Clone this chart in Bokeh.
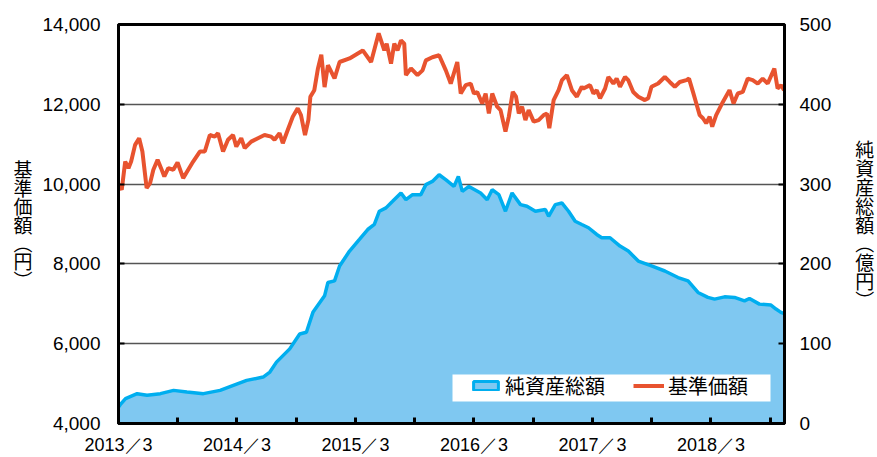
from bokeh.plotting import figure
from bokeh.models import (Range1d, LinearAxis, FixedTicker, NumeralTickFormatter,
                          Legend, LegendItem, BoxAnnotation)
from bokeh.embed import file_html
from bokeh.resources import INLINE

# months since 2013/3
nav_month = [0.00, 0.33, 0.68, 1.01, 1.28, 1.68, 2.09, 2.42, 2.85, 3.20, 3.53, 3.96, 4.31, 4.64, 5.04,
             5.55, 5.98, 6.55, 7.06, 7.56, 8.24, 8.74, 9.25, 9.75, 10.08, 10.59, 11.09, 11.60, 11.93,
             12.43, 12.78, 13.44, 14.12, 14.79, 15.46, 15.80, 16.31, 16.64, 17.14, 17.65, 18.15, 18.48,
             18.89, 19.23, 19.43, 19.83, 20.20, 20.54, 20.87, 21.21, 21.88, 22.39, 23.40, 24.74, 25.58,
             26.35, 26.92, 27.16, 27.60, 27.93, 28.26, 28.61, 28.94, 29.11, 29.62, 30.28, 30.79, 31.13,
             31.79, 32.47, 33.15, 33.65, 34.31, 34.66, 35.16, 35.67, 36.00, 36.33, 36.84, 37.18, 37.51,
             37.85, 38.35, 38.69, 39.19, 39.53, 39.93, 40.26, 40.54, 40.87, 41.21, 41.54, 42.05, 42.55,
             43.06, 43.39, 43.63, 44.07, 44.57, 44.91, 45.41, 45.92, 46.42, 46.92, 47.09, 47.76, 48.10,
             48.43, 48.77, 49.28, 49.61, 50.12, 50.45, 50.79, 51.30, 51.63, 52.13, 52.64, 53.31, 53.65,
             53.98, 54.65, 55.33, 55.83, 56.34, 56.84, 57.51, 57.78, 58.18, 58.52, 58.86, 59.19, 59.52,
             59.87, 60.13, 60.53, 61.21, 61.88, 62.29, 62.72, 63.22, 63.73, 64.23, 64.74, 65.24, 65.75,
             66.42, 66.75, 67.11, 67.41]
nav_value = [9985, 9860, 10566, 10400, 10566, 10983, 11150, 10816, 9900, 10025, 10360, 10610, 10400,
             10190, 10400, 10360, 10540, 10150, 10360, 10566, 10816, 10816, 11230, 11190, 11275, 10816,
             11110, 11230, 10940, 11150, 10900, 11065, 11150, 11230, 11190, 11110, 11275, 11025, 11357,
             11690, 11900, 11730, 11230, 11606, 12187, 12354, 12900, 13240, 12430, 12980, 12650, 13060,
             13150, 13350, 13060, 13780, 13350, 13520, 13020, 13520, 13350, 13600, 13520, 12730, 12900,
             12730, 12850, 13100, 13180, 13230, 12850, 12520, 13060, 12270, 12480, 12520, 12270, 12310,
             12020, 12270, 11770, 12270, 11940, 11855, 11315, 11690, 12310, 12190, 11770, 11940, 11605,
             11855, 11565, 11605, 11730, 11770, 11400, 12105, 12354, 12605, 12730, 12354, 12190, 12440,
             12395, 12480, 12270, 12355, 12150, 12395, 12685, 12520, 12645, 12440, 12685, 12605, 12310,
             12190, 12105, 12150, 12440, 12520, 12685, 12560, 12440, 12560, 12605, 12645, 12310, 12020,
             11730, 11650, 11525, 11690, 11440, 11730, 12060, 12355, 12020, 12270, 12310, 12645, 12605,
             12520, 12645, 12520, 12895, 12395, 12480, 12355]

aum_month = [0.03, 0.2, 0.71, 1.89, 2.89, 4.24, 5.58, 6.93, 8.6, 10.29, 11.63, 12.98, 14.65, 15.33,
             16.0, 17.34, 18.35, 19.03, 19.69, 20.87, 21.21, 21.88, 22.39, 23.4, 24.4, 25.24, 25.91,
             26.42, 27.09, 27.76, 28.61, 29.11, 29.78, 30.62, 31.13, 31.79, 32.47, 33.14, 33.98, 34.42,
             34.82, 35.49, 36.67, 37.34, 37.84, 38.52, 39.19, 39.86, 40.71, 41.37, 42.22, 43.23, 43.56,
             44.24, 44.9, 45.58, 46.25, 46.92, 47.6, 48.43, 48.94, 49.78, 50.79, 51.63, 52.64, 53.98,
             55.33, 56.67, 57.68, 58.69, 59.69, 60.37, 61.38, 62.39, 63.4, 63.9, 64.91, 66.08, 66.59,
             67.09, 67.36]
aum_value = [20.8, 24, 31.2, 37.4, 35.3, 37.4, 41.5, 39.5, 37.4, 41.5, 47.8, 54, 58.2, 64.5, 76.9,
             93.5, 112.2, 114.3, 139.3, 160, 176.7, 178.7, 197.4, 216.1, 230.7, 243.1, 249.4, 266,
             270.2, 278.4, 288.9, 280.5, 286.8, 286.8, 299.3, 303.4, 311.7, 305.5, 297.1, 309.6, 290.9,
             297.1, 288.9, 280.5, 293, 286.8, 266, 288.9, 274.3, 272.2, 266, 268.1, 259.7, 274.3,
             276.4, 266, 253.5, 249.4, 245.3, 236.9, 232.8, 232.8, 222.3, 216.1, 203.6, 197.4, 191.1,
             182.9, 178.7, 164.2, 158, 155.9, 158.7, 158, 153.7, 156.7, 149.6, 148.4, 143.4, 139.3, 138]

x_ticks = [0, 6, 12, 18, 24, 30, 36, 42, 48, 54, 60, 66]
x_tick_labels = {0: "2013／3", 12: "2014／3", 24: "2015／3", 36: "2016／3", 48: "2017／3", 60: "2018／3"}
left_ticks = [4000, 6000, 8000, 10000, 12000, 14000]
right_ticks = [0, 100, 200, 300, 400, 500]
left_title = ["基", "準", "価", "額", "︵", "円", "︶"]
right_title = ["純", "資", "産", "総", "額", "︵", "億", "円", "︶"]

AREA_FILL = "#7FC8F1"
AREA_LINE = "#00AEEF"
NAV_COLOR = "#E8532F"
JP = "Noto Sans CJK JP"
nan = float("nan")

p = figure(width=877, height=457, output_backend="svg", toolbar_location=None,
           x_range=Range1d(0, 67.45), y_range=Range1d(4000, 14000),
           min_border_left=118, min_border_right=90, min_border_top=24, min_border_bottom=32)
p.extra_y_ranges = {"aum": Range1d(0, 500)}
p.background_fill_color = "white"
p.border_fill_color = "white"
p.outline_line_color = "black"
p.outline_line_width = 3

area = p.varea(x=aum_month, y1=[0] * len(aum_month), y2=aum_value, y_range_name="aum",
               fill_color=AREA_FILL)
p.line(aum_month, aum_value, y_range_name="aum", line_color=AREA_LINE, line_width=3.5)
nav = p.line(nav_month, nav_value, line_color=NAV_COLOR, line_width=4)
swatch = p.quad(left=[nan], right=[nan], top=[nan], bottom=[nan], fill_color=AREA_FILL,
                line_color=AREA_LINE, line_width=3)

# axes
xa = p.xaxis[0]
xa.ticker = FixedTicker(ticks=x_ticks)
xa.major_label_overrides = {t: x_tick_labels.get(t, "") for t in x_ticks}
xa.minor_tick_line_color = None
xa.major_tick_in = 6
xa.major_tick_out = 0
xa.major_tick_line_width = 3
xa.axis_line_width = 3
xa.major_label_standoff = 11
xa.major_label_text_font = "Liberation Sans"
xa.major_label_text_font_size = "18px"
xa.major_label_text_color = "black"

ya = p.yaxis[0]
ya.ticker = FixedTicker(ticks=left_ticks)
ya.formatter = NumeralTickFormatter(format="0,0")
ya.minor_tick_line_color = None
ya.major_tick_in = 6
ya.major_tick_out = 0
ya.major_tick_line_width = 2
ya.axis_line_width = 3
ya.major_label_standoff = 18
ya.major_label_text_font = "Liberation Sans"
ya.major_label_text_font_size = "19px"
ya.major_label_text_color = "black"
ya.axis_label = "\n".join(left_title)
ya.axis_label_orientation = "horizontal"
ya.axis_label_text_font = JP
ya.axis_label_text_font_size = "19px"
ya.axis_label_text_font_style = "normal"
ya.axis_label_text_line_height = 0.68
ya.axis_label_standoff = 7
ya.axis_label_text_color = "black"

ra = LinearAxis(y_range_name="aum", ticker=FixedTicker(ticks=right_ticks))
ra.minor_tick_line_color = None
ra.major_tick_in = 6
ra.major_tick_out = 0
ra.major_tick_line_width = 2
ra.axis_line_width = 3
ra.major_label_standoff = 15
ra.major_label_text_font = "Liberation Sans"
ra.major_label_text_font_size = "19px"
ra.major_label_text_color = "black"
ra.axis_label = "\n".join(right_title)
ra.axis_label_orientation = "horizontal"
ra.axis_label_text_font = JP
ra.axis_label_text_font_size = "19px"
ra.axis_label_text_font_style = "normal"
ra.axis_label_text_line_height = 0.7
ra.axis_label_standoff = 21
ra.axis_label_text_color = "black"
p.add_layout(ra, "right")

p.xgrid.grid_line_color = None
p.ygrid.ticker = FixedTicker(ticks=left_ticks)
p.ygrid.grid_line_color = "#555555"
p.ygrid.grid_line_width = 1.3

# white legend box
p.add_layout(BoxAnnotation(left=334, right=652, bottom=22, top=49,
                           left_units="screen", right_units="screen",
                           bottom_units="screen", top_units="screen",
                           fill_color="white", fill_alpha=1, line_color=None))

legend = Legend(items=[LegendItem(label="純資産総額", renderers=[swatch]),
                       LegendItem(label="基準価額", renderers=[nav])],
                orientation="horizontal", location=(352, 23))
legend.background_fill_alpha = 0
legend.border_line_color = None
legend.label_text_font = JP
legend.label_text_font_size = "20px"
legend.label_text_color = "black"
legend.glyph_width = 31
legend.glyph_height = 11
legend.padding = 0
legend.margin = 0
legend.spacing = 2
legend.label_standoff = 4
legend.label_width = 126
p.add_layout(legend, "center")

open("out.html", "w").write(file_html(p, INLINE))
